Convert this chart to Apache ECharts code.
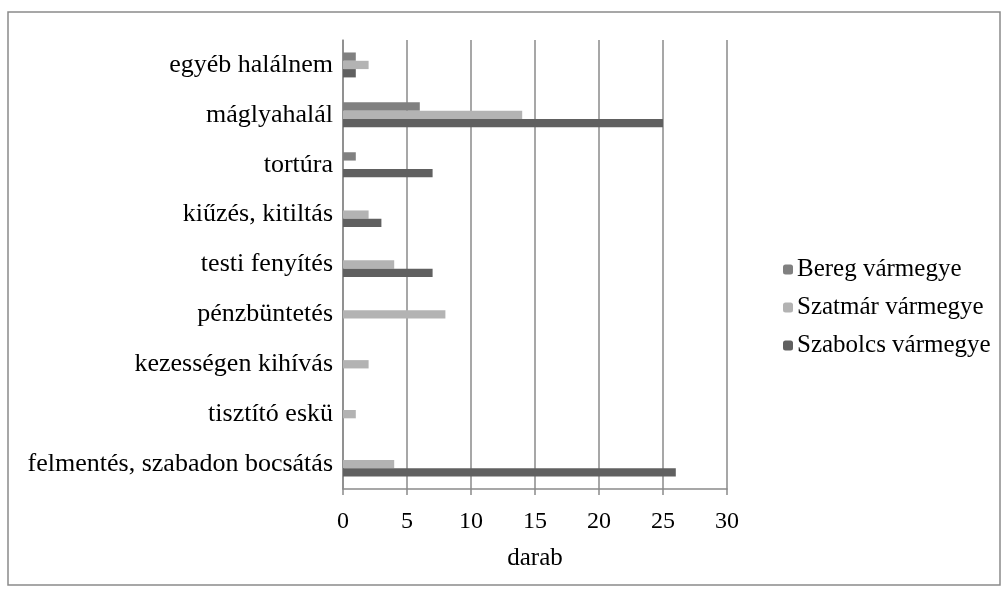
<!DOCTYPE html>
<html><head><meta charset="utf-8">
<script src="https://cdn.jsdelivr.net/npm/echarts@6/dist/echarts.min.js"></script>
<style>html,body{margin:0;padding:0;background:#fff}#c{width:1008px;height:592px}</style>
</head><body><div id="c"></div>
<script>
const categories = ['felmentés, szabadon bocsátás','tisztító eskü','kezességen kihívás','pénzbüntetés','testi fenyítés','kiűzés, kitiltás','tortúra','máglyahalál','egyéb halálnem'];
const bereg    = [0,0,0,0,0,0,1,6,1];
const szatmar  = [4,1,2,8,4,2,0,14,2];
const szabolcs = [26,0,0,0,7,3,7,25,1];
const xTicks = [0,5,10,15,20,25,30];
const seriesNames = ['Bereg vármegye','Szatmár vármegye','Szabolcs vármegye'];
const font = '"Liberation Serif","DejaVu Serif",serif';
const chart = echarts.init(document.getElementById('c'));
chart.setOption({
  animation:false,
  graphic:[{type:'rect',shape:{x:8,y:12,width:992,height:573},style:{fill:'none',stroke:'#8a8a8a',lineWidth:1.5}}],
  grid:{left:343,right:281,top:40,bottom:103},
  legend:{data:seriesNames,orient:'vertical',left:778,top:252,itemGap:13,itemWidth:10,itemHeight:10,
    textStyle:{fontFamily:font,fontSize:25,color:'#000',padding:[0,0,0,-1]}},
  xAxis:{type:'value',min:xTicks[0],max:xTicks[xTicks.length-1],interval:5,
    name:'darab',nameLocation:'middle',nameGap:57,nameTextStyle:{fontFamily:font,fontSize:25,color:'#000'},
    axisLine:{show:true,lineStyle:{color:'#8a8a8a',width:1.5}},
    axisTick:{show:true,length:6,lineStyle:{color:'#8a8a8a',width:1.5}},
    axisLabel:{fontFamily:font,fontSize:24,color:'#000',margin:21},
    splitLine:{show:true,lineStyle:{color:'#8a8a8a',width:1.5}}},
  yAxis:{type:'category',data:categories,
    axisLine:{show:true,lineStyle:{color:'#8a8a8a',width:1.5}},
    axisTick:{show:false},
    axisLabel:{fontFamily:font,fontSize:26,color:'#000',margin:10}},
  series:[
    {name:'Bereg vármegye',type:'bar',data:bereg,itemStyle:{color:'#808080'},barGap:'0%',barCategoryGap:'50%'},
    {name:'Szatmár vármegye',type:'bar',data:szatmar,itemStyle:{color:'#b3b3b3'},barGap:'0%',barCategoryGap:'50%'},
    {name:'Szabolcs vármegye',type:'bar',data:szabolcs,itemStyle:{color:'#606060'},barGap:'0%',barCategoryGap:'50%'}
  ]
});
</script></body></html>
